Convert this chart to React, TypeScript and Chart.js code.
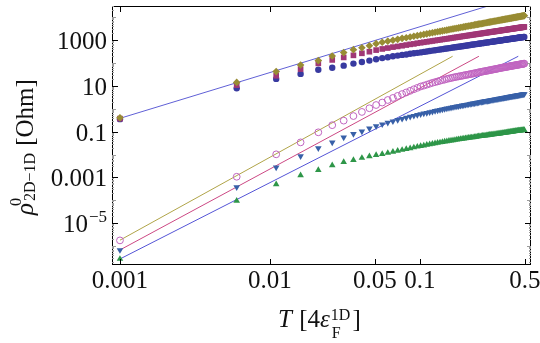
import { useEffect, useRef } from 'react';
import { Chart, registerables } from 'chart.js';

Chart.register(...registerables);

// Temperature grid in units of 4ε_F^1D
const temperature = [
  0.001, 0.006, 0.011, 0.016, 0.021, 0.026, 0.031, 0.036, 0.041, 0.046,
  0.051, 0.056, 0.061, 0.066, 0.071, 0.076, 0.081, 0.086, 0.091, 0.096,
  0.101, 0.106, 0.111, 0.116, 0.121, 0.126, 0.131, 0.136, 0.141, 0.146,
  0.151, 0.156, 0.161, 0.166, 0.171, 0.176, 0.181, 0.186, 0.191, 0.196,
  0.201, 0.206, 0.211, 0.216, 0.221, 0.226, 0.231, 0.236, 0.241, 0.246,
  0.251, 0.256, 0.261, 0.266, 0.271, 0.276, 0.281, 0.286, 0.291, 0.296,
  0.301, 0.306, 0.311, 0.316, 0.321, 0.326, 0.331, 0.336, 0.341, 0.346,
  0.351, 0.356, 0.361, 0.366, 0.371, 0.376, 0.381, 0.386, 0.391, 0.396,
  0.401, 0.406, 0.411, 0.416, 0.421, 0.426, 0.431, 0.436, 0.441, 0.446,
  0.451, 0.456, 0.461, 0.466, 0.471, 0.476, 0.481, 0.486, 0.491, 0.496,
];

// Resistivity series [Ohm]
const rhoDiamond = [
  0.40, 14.1, 41.7, 81.3, 126, 200, 282, 380, 457, 562,
  692, 794, 891, 977, 1070, 1180, 1260, 1350, 1450, 1550,
  1660, 1760, 1860, 1970, 2070, 2180, 2280, 2390, 2500, 2610,
  2710, 2830, 2930, 3050, 3160, 3270, 3380, 3500, 3610, 3730,
  3850, 3960, 4080, 4200, 4320, 4440, 4560, 4680, 4800, 4920,
  5050, 5160, 5280, 5410, 5530, 5660, 5790, 5920, 6040, 6170,
  6300, 6430, 6550, 6680, 6810, 6930, 7060, 7190, 7330, 7460,
  7590, 7730, 7850, 7990, 8130, 8260, 8400, 8530, 8670, 8790,
  8930, 9070, 9200, 9330, 9480, 9620, 9750, 9890, 10000, 10200,
  10300, 10400, 10600, 10700, 10900, 11000, 11100, 11300, 11400, 11600,
];

const rhoSquare = [
  0.37, 10.7, 27.5, 53.7, 95.5, 135, 174, 214, 263, 309,
  363, 407, 447, 490, 525, 562, 603, 646, 676, 724,
  759, 797, 834, 872, 909, 947, 984, 1020, 1060, 1100,
  1130, 1170, 1210, 1250, 1290, 1320, 1360, 1400, 1440, 1470,
  1510, 1550, 1590, 1620, 1660, 1700, 1740, 1770, 1810, 1850,
  1890, 1920, 1960, 2000, 2040, 2070, 2110, 2150, 2190, 2220,
  2260, 2300, 2340, 2370, 2410, 2450, 2490, 2520, 2560, 2600,
  2640, 2680, 2710, 2750, 2790, 2830, 2860, 2900, 2940, 2980,
  3010, 3050, 3090, 3130, 3160, 3200, 3240, 3280, 3310, 3350,
  3390, 3430, 3460, 3500, 3540, 3580, 3610, 3650, 3690, 3730,
];

const rhoCircle = [
  0.35, 7.76, 20.0, 33.1, 50.1, 61.7, 75.9, 93.3, 110, 126,
  145, 162, 178, 195, 209, 224, 234, 251, 263, 275,
  288, 302, 316, 330, 344, 358, 371, 385, 399, 413,
  427, 441, 455, 468, 482, 496, 510, 524, 537, 551,
  565, 579, 592, 606, 620, 634, 648, 661, 675, 689,
  703, 716, 730, 744, 757, 771, 785, 799, 812, 826,
  840, 854, 867, 881, 894, 908, 922, 935, 949, 962,
  976, 990, 1000, 1020, 1030, 1040, 1060, 1070, 1090, 1100,
  1110, 1130, 1140, 1150, 1170, 1180, 1190, 1210, 1220, 1230,
  1250, 1260, 1280, 1290, 1300, 1320, 1330, 1340, 1360, 1370,
];

const rhoOpen = [
  1.78e-6, 1.07e-3, 0.0102, 0.0339, 0.0933, 0.191, 0.302, 0.479, 0.724, 1.05,
  1.45, 1.86, 2.40, 2.95, 3.63, 4.37, 5.13, 6.03, 7.08, 8.13,
  9.33, 10.2, 11.2, 12.3, 13.5, 14.5, 15.5, 16.6, 17.8, 18.6,
  20.0, 20.9, 21.9, 22.9, 24.0, 24.8, 25.7, 26.6, 27.5, 28.5,
  29.5, 30.4, 31.3, 32.3, 33.3, 34.3, 35.3, 36.4, 37.5, 38.6,
  39.8, 40.7, 41.7, 42.7, 43.7, 44.7, 45.7, 46.8, 47.9, 49.0,
  50.1, 51.2, 52.2, 53.3, 54.5, 55.6, 56.8, 57.9, 59.2, 60.4,
  61.7, 62.7, 63.7, 64.7, 65.8, 66.8, 67.9, 69.0, 70.1, 71.3,
  72.4, 73.5, 74.5, 75.5, 76.6, 77.6, 78.7, 79.8, 80.9, 82.0,
  83.2, 84.3, 85.3, 86.5, 87.5, 88.7, 89.7, 91.0, 92.0, 93.3,
];

const rhoTriDown = [
  6.76e-7, 3.72e-4, 2.75e-3, 8.51e-3, 0.0191, 0.0339, 0.0562, 0.0794, 0.102, 0.138,
  0.174, 0.209, 0.245, 0.282, 0.324, 0.363, 0.407, 0.447, 0.490, 0.531,
  0.575, 0.617, 0.661, 0.700, 0.750, 0.794, 0.838, 0.881, 0.927, 0.975,
  1.02, 1.07, 1.11, 1.16, 1.21, 1.26, 1.30, 1.34, 1.39, 1.43,
  1.48, 1.52, 1.56, 1.61, 1.65, 1.70, 1.75, 1.79, 1.85, 1.90,
  1.95, 1.99, 2.03, 2.07, 2.12, 2.16, 2.21, 2.25, 2.30, 2.35,
  2.40, 2.44, 2.49, 2.54, 2.58, 2.63, 2.68, 2.73, 2.78, 2.83,
  2.88, 2.93, 2.98, 3.03, 3.08, 3.13, 3.18, 3.23, 3.28, 3.33,
  3.39, 3.44, 3.48, 3.53, 3.58, 3.63, 3.68, 3.73, 3.78, 3.84,
  3.89, 3.94, 3.99, 4.05, 4.09, 4.15, 4.20, 4.26, 4.31, 4.37,
];

const rhoTriUp = [
  2.75e-7, 9.55e-5, 5.01e-4, 1.23e-3, 2.09e-3, 3.39e-3, 4.68e-3, 5.75e-3, 7.08e-3, 8.32e-3,
  9.55e-3, 0.0105, 0.0117, 0.0130, 0.0145, 0.0158, 0.0174, 0.0188, 0.0204, 0.0219,
  0.0234, 0.0248, 0.0263, 0.0277, 0.0293, 0.0309, 0.0322, 0.0336, 0.0350, 0.0365,
  0.0380, 0.0393, 0.0406, 0.0419, 0.0433, 0.0447, 0.0459, 0.0472, 0.0485, 0.0499,
  0.0513, 0.0524, 0.0535, 0.0546, 0.0557, 0.0569, 0.0581, 0.0593, 0.0605, 0.0618,
  0.0631, 0.0641, 0.0652, 0.0662, 0.0673, 0.0684, 0.0695, 0.0706, 0.0718, 0.0729,
  0.0741, 0.0752, 0.0762, 0.0773, 0.0783, 0.0794, 0.0805, 0.0817, 0.0828, 0.0839,
  0.0851, 0.0863, 0.0875, 0.0887, 0.0899, 0.0912, 0.0925, 0.0938, 0.0951, 0.0964,
  0.0977, 0.0989, 0.100, 0.101, 0.102, 0.104, 0.105, 0.106, 0.107, 0.108,
  0.110, 0.110, 0.111, 0.112, 0.113, 0.114, 0.115, 0.116, 0.117, 0.117,
];

// Power-law guide lines (end points)
const guideHighT = [0.001, 0.3];
const guideHighRho = [0.38, 34200];
const guideOpenT = [0.001, 0.165];
const guideOpenRho = [1.82e-6, 195];
const guideDownT = [0.001, 0.247];
const guideDownRho = [6.8e-7, 195];
const guideUpT = [0.001, 0.452];
const guideUpRho = [2.75e-7, 195];

// Axis ticks
const xTickValues = [0.001, 0.01, 0.05, 0.1, 0.5];
const xTickLabels = ['0.001', '0.01', '0.05', '0.1', '0.5'];
const yTickValues = [1e-5, 0.001, 0.1, 10, 1000];
const yTickLabels = ['10|−5', '0.001', '0.1', '10', '1000'];

const X_MIN = 0.000885;
const X_MAX = 0.5495;
const Y_MIN = 1.5e-7;
const Y_MAX = 30550;

const pts = (xs: number[], ys: number[]) => xs.map((x, i) => ({ x, y: ys[i] }));

const SERIF = '"Liberation Serif", "Times New Roman", serif';

const frameAxes = {
  id: 'frameAxes',
  afterDraw(chart: any) {
    const { ctx, chartArea: a, scales } = chart;
    const xs = scales.x;
    const ys = scales.y;
    ctx.save();
    ctx.strokeStyle = '#000';
    ctx.lineWidth = 1;
    ctx.strokeRect(a.left + 0.5, a.top + 0.5, a.right - a.left - 1, a.bottom - a.top - 1);

    // minor y ticks
    ctx.strokeStyle = '#9a9a9a';
    for (let e = -7; e <= 4; e++) {
      for (let m = 1; m <= 9; m++) {
        const v = m * Math.pow(10, e);
        if (v < Y_MIN || v > Y_MAX) continue;
        if (m === 1 && yTickValues.some((t) => Math.abs(Math.log10(t) - e) < 1e-9)) continue;
        const py = Math.round(ys.getPixelForValue(v)) + 0.5;
        const len = m === 1 ? 4 : 2;
        ctx.beginPath();
        ctx.moveTo(a.left, py);
        ctx.lineTo(a.left + len, py);
        ctx.moveTo(a.right, py);
        ctx.lineTo(a.right - len, py);
        ctx.stroke();
      }
    }

    // major ticks
    ctx.strokeStyle = '#000';
    xTickValues.forEach((v) => {
      const px = Math.round(xs.getPixelForValue(v)) + 0.5;
      ctx.beginPath();
      ctx.moveTo(px, a.bottom);
      ctx.lineTo(px, a.bottom - 6);
      ctx.moveTo(px, a.top);
      ctx.lineTo(px, a.top + 6);
      ctx.stroke();
    });
    yTickValues.forEach((v) => {
      const py = Math.round(ys.getPixelForValue(v)) + 0.5;
      ctx.beginPath();
      ctx.moveTo(a.left, py);
      ctx.lineTo(a.left + 6, py);
      ctx.moveTo(a.right, py);
      ctx.lineTo(a.right - 6, py);
      ctx.stroke();
    });

    // tick labels
    ctx.fillStyle = '#111';
    ctx.textBaseline = 'alphabetic';
    ctx.font = `25px ${SERIF}`;
    ctx.textAlign = 'center';
    xTickValues.forEach((v, i) => {
      ctx.fillText(xTickLabels[i], xs.getPixelForValue(v), a.bottom + 23);
    });
    const labelRight = a.left - 5;
    yTickValues.forEach((v, i) => {
      const py = ys.getPixelForValue(v);
      const label = yTickLabels[i];
      if (label.includes('|')) {
        const [base, exp] = label.split('|');
        ctx.font = `17px ${SERIF}`;
        const ew = ctx.measureText(exp).width;
        ctx.textAlign = 'left';
        ctx.fillText(exp, labelRight - ew, py - 1);
        ctx.font = `25px ${SERIF}`;
        ctx.textAlign = 'right';
        ctx.fillText(base, labelRight - ew - 1, py + 9);
      } else {
        ctx.font = `25px ${SERIF}`;
        ctx.textAlign = 'right';
        ctx.fillText(label, labelRight, py + 9);
      }
    });

    // x title: T [4ε_F^1D]
    ctx.textAlign = 'left';
    let x = 278;
    const base = 327;
    ctx.font = `italic 25px ${SERIF}`;
    ctx.fillText('T', x, base);
    x += ctx.measureText('T ').width + 1;
    ctx.font = `25px ${SERIF}`;
    ctx.fillText('[4', x, base);
    x += ctx.measureText('[4').width;
    ctx.font = `italic 25px ${SERIF}`;
    ctx.fillText('ε', x, base);
    x += ctx.measureText('ε').width + 1;
    ctx.font = `16px ${SERIF}`;
    ctx.fillText('1D', x, base - 7);
    const supW = ctx.measureText('1D').width;
    ctx.fillText('F', x + 1, base + 11);
    x += supW + 2;
    ctx.font = `25px ${SERIF}`;
    ctx.fillText(']', x, base);

    // y title: ρ^0_{2D−1D} [Ohm], rotated
    ctx.save();
    ctx.translate(33, 215);
    ctx.rotate(-Math.PI / 2);
    ctx.textAlign = 'left';
    ctx.font = `italic 25px ${SERIF}`;
    ctx.fillText('ρ', 0, 0);
    const rw = ctx.measureText('ρ').width;
    ctx.font = `16px ${SERIF}`;
    ctx.fillText('0', rw - 3, -12);
    ctx.fillText('2D−1D', rw + 2, 2);
    const sw = ctx.measureText('2D−1D').width;
    ctx.font = `25px ${SERIF}`;
    ctx.fillText('[Ohm]', rw + 2 + sw + 7, 0);
    ctx.restore();

    ctx.restore();
  },
};

const OLIVE = 'rgb(152,140,52)';
const MAGENTA = 'rgb(160,55,118)';
const NAVY = 'rgb(56,58,160)';
const ORCHID = 'rgb(192,100,192)';
const STEEL = 'rgb(56,96,168)';
const GREEN = 'rgb(46,150,72)';

function markers(label: string, ys: number[], color: string, style: string, radius: number, extra: any = {}) {
  return {
    label,
    data: pts(temperature, ys),
    showLine: false,
    pointStyle: style,
    pointRadius: radius,
    pointBackgroundColor: color,
    pointBorderColor: color,
    pointBorderWidth: 0,
    ...extra,
  };
}

function guide(label: string, xs: number[], ys: number[], color: string) {
  return {
    label,
    data: pts(xs, ys),
    showLine: true,
    borderColor: color,
    borderWidth: 1,
    pointRadius: 0,
    fill: false,
  };
}

export default function App() {
  const ref = useRef<HTMLCanvasElement>(null);

  useEffect(() => {
    document.body.style.margin = '0';
    const canvas = ref.current;
    if (!canvas) return;
    const chart = new Chart(canvas, {
      type: 'scatter',
      data: {
        datasets: [
          markers('diamond', rhoDiamond, OLIVE, 'rectRot', 3.8),
          markers('square', rhoSquare, MAGENTA, 'rect', 4),
          markers('circle', rhoCircle, NAVY, 'circle', 3.2),
          markers('open', rhoOpen, ORCHID, 'circle', 3.4, {
            pointBackgroundColor: 'rgba(0,0,0,0)',
            pointBorderWidth: 1,
          }),
          markers('down', rhoTriDown, STEEL, 'triangle', 3.8, { pointRotation: 180 }),
          markers('up', rhoTriUp, GREEN, 'triangle', 3.8),
          guide('high', guideHighT, guideHighRho, 'rgb(96,96,214)'),
          guide('openFit', guideOpenT, guideOpenRho, 'rgb(176,164,72)'),
          guide('downFit', guideDownT, guideDownRho, 'rgb(204,72,132)'),
          guide('upFit', guideUpT, guideUpRho, 'rgb(84,84,214)'),
        ] as any,
      },
      options: {
        responsive: false,
        animation: false,
        devicePixelRatio: 1,
        events: [],
        layout: { padding: { left: 112, right: 9, top: 6, bottom: 78 } },
        plugins: {
          legend: { display: false },
          tooltip: { enabled: false },
        },
        scales: {
          x: { type: 'logarithmic', min: X_MIN, max: X_MAX, display: false },
          y: { type: 'logarithmic', min: Y_MIN, max: Y_MAX, display: false },
        },
      },
      plugins: [frameAxes],
    });
    return () => chart.destroy();
  }, []);

  return (
    <canvas
      ref={ref}
      width={540}
      height={343}
      style={{ display: 'block', width: 540, height: 343 }}
    />
  );
}
